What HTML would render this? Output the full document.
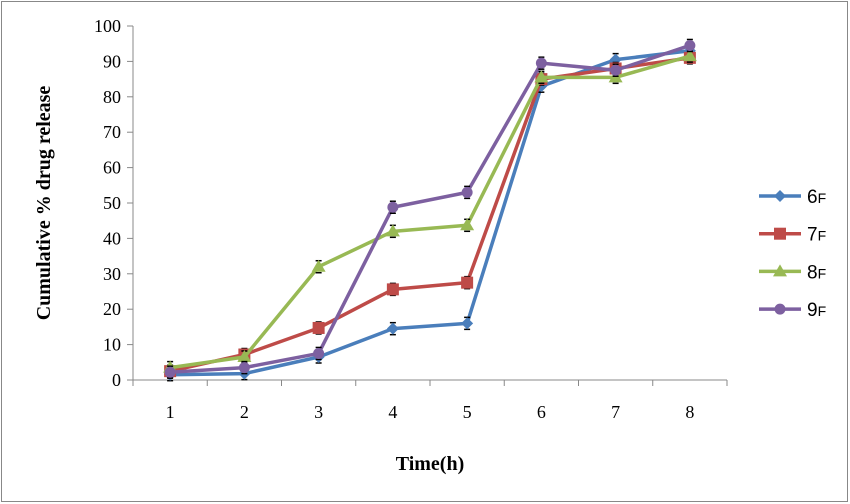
<!DOCTYPE html>
<html><head><meta charset="utf-8"><style>
body{margin:0;background:#fff;}
svg{display:block;font-family:"Liberation Serif",serif;}
</style></head><body>
<svg id="chart" width="850" height="504">
<rect x="1.5" y="1.5" width="846" height="500" fill="#fff" stroke="#888" stroke-width="1"/>
<g id="axes"></g><g id="series"></g><g id="legend"></g>
<text x="430" y="470" text-anchor="middle" font-size="20" font-weight="bold">Time(h)</text>
<text transform="translate(50,203) rotate(-90)" text-anchor="middle" font-size="20" font-weight="bold">Cumulative % drug release</text>
</svg>
<script>
const categories=[1,2,3,4,5,6,7,8];
const yTicks=[0,10,20,30,40,50,60,70,80,90,100];
const seriesNames=["6F","7F","8F","9F"];
const s6F=[1.5,1.8,6.5,14.5,16,83,90.5,93];
const s7F=[2.5,7.2,14.7,25.6,27.5,85,88,91];
const s8F=[3.5,6.5,32,42,43.7,85.5,85.5,91.5];
const s9F=[2.2,3.5,7.5,48.8,53,89.5,87.5,94.5];
const colors=["#4a7ebb","#be4b48","#98b954","#7d60a0"];
const markers=["diamond","square","triangle","circle"];
const NS="http://www.w3.org/2000/svg";
const X0=133,STEP=74.25,Y0=380,YS=3.54;
function xs(i){return X0+(i+0.5)*STEP;}
function ys(v){return Y0-v*YS;}
function mk(t,a,p){const e=document.createElementNS(NS,t);for(const k in a)e.setAttribute(k,a[k]);p.appendChild(e);return e;}
const ax=document.getElementById('axes');
let yl=mk('line',{x1:X0,y1:ys(100),x2:X0,y2:Y0,stroke:'#888'},ax);


let xl=mk('line',{x1:X0,y1:Y0,x2:X0+8*STEP,y2:Y0,stroke:'#888'},ax);


yTicks.forEach(v=>{
 mk('line',{x1:X0-6,y1:ys(v),x2:X0,y2:ys(v),stroke:'#888'},ax);
 const t=mk('text',{x:X0-12,y:ys(v)+6,'text-anchor':'end','font-size':18},ax);t.textContent=v;
 
 
});
for(let i=0;i<=8;i++)mk('line',{x1:X0+i*STEP,y1:Y0,x2:X0+i*STEP,y2:Y0+6,stroke:'#888'},ax);
categories.forEach((c,i)=>{
 const t=mk('text',{x:xs(i),y:Y0+38,'text-anchor':'middle','font-size':18},ax);t.textContent=c;
 
 
});
function marker(type,x,y,col,g){
 if(type==='diamond')return mk('polygon',{points:`${x},${y-6} ${x+6},${y} ${x},${y+6} ${x-6},${y}`,fill:col},g);
 if(type==='square')return mk('rect',{x:x-6,y:y-6,width:12,height:12,fill:col},g);
 if(type==='triangle')return mk('polygon',{points:`${x},${y-7} ${x+7},${y+5} ${x-7},${y+5}`,fill:col},g);
 return mk('circle',{cx:x,cy:y,r:5.5,fill:col},g);
}
const sg=document.getElementById('series');
[s6F,s7F,s8F,s9F].forEach((d,si)=>{
 const g=mk('g',{},sg);
 
 
 const pl=mk('polyline',{points:d.map((v,i)=>xs(i)+','+ys(v)).join(' '),fill:'none',stroke:colors[si],'stroke-width':3.5,'stroke-linejoin':'round'},g);
 
 
 d.forEach((v,i)=>{
  mk('line',{x1:xs(i)-3,y1:ys(v)-6,x2:xs(i)+3,y2:ys(v)-6,stroke:'#000','stroke-width':1.5},g);
  mk('line',{x1:xs(i)-3,y1:ys(v)+6,x2:xs(i)+3,y2:ys(v)+6,stroke:'#000','stroke-width':1.5},g);
  const m=marker(markers[si],xs(i),ys(v),colors[si],g);
  
  
 });
});
const lg=document.getElementById('legend');
seriesNames.forEach((n,i)=>{
 const y=196+i*37.7;
 const g=mk('g',{},lg);
 
 
 mk('line',{x1:759,y1:y,x2:801,y2:y,stroke:colors[i],'stroke-width':3.5},g);
 marker(markers[i],780,y,colors[i],g);
 const t=mk('text',{x:807,y:y+7,'font-size':19,'font-family':'Liberation Sans, sans-serif'},g);
 t.innerHTML=n[0]+'<tspan font-size="14">F</tspan>';
});
</script>
</body></html>
